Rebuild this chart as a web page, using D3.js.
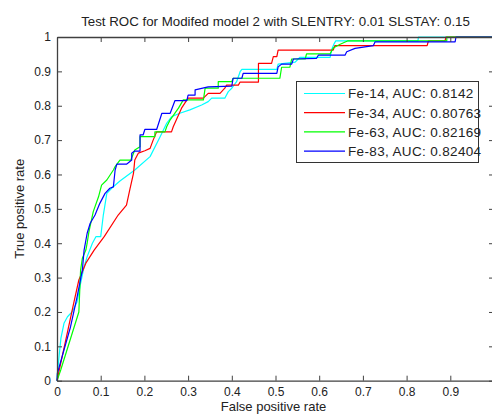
<!DOCTYPE html>
<html>
<head>
<meta charset="utf-8">
<script src="https://cdn.jsdelivr.net/npm/d3@7"></script>
<style>
  html, body { margin: 0; padding: 0; background: #fff; }
  svg { display: block; font-family: "Liberation Sans", Arial, sans-serif; }
</style>
</head>
<body>
<svg id="chart" width="492" height="417"></svg>
<script>
// ROC curves: false positive rate / true positive rate vertices per model
const fe14Fpr = [0, 0.001, 0.005, 0.009, 0.016, 0.024, 0.035, 0.046, 0.054, 0.062, 0.069, 0.081, 0.089, 0.100, 0.106, 0.114, 0.125, 0.144, 0.178, 0.213, 0.236, 0.251, 0.262, 0.281, 0.304, 0.331, 0.346, 0.354, 0.384, 0.392, 0.400, 0.411, 0.419, 0.423, 0.503, 0.506, 0.545, 0.556, 0.625, 0.629, 0.634, 0.638, 0.826, 0.827, 1];
const fe14Tpr = [0, 0.022, 0.074, 0.124, 0.167, 0.186, 0.201, 0.230, 0.283, 0.332, 0.361, 0.400, 0.419, 0.419, 0.482, 0.545, 0.560, 0.581, 0.613, 0.652, 0.710, 0.749, 0.768, 0.778, 0.788, 0.802, 0.812, 0.822, 0.822, 0.841, 0.851, 0.870, 0.899, 0.906, 0.906, 0.921, 0.927, 0.941, 0.941, 0.965, 0.980, 0.989, 0.989, 1, 1];

const fe34Fpr = [0, 0.039, 0.050, 0.066, 0.085, 0.108, 0.140, 0.159, 0.167, 0.175, 0.178, 0.186, 0.201, 0.213, 0.220, 0.228, 0.262, 0.266, 0.285, 0.300, 0.335, 0.346, 0.373, 0.384, 0.388, 0.415, 0.419, 0.461, 0.461, 0.491, 0.495, 0.503, 0.506, 0.632, 0.636, 0.847, 0.850, 0.888, 0.890, 1];
const fe34Tpr = [0, 0.230, 0.293, 0.342, 0.380, 0.419, 0.482, 0.511, 0.558, 0.603, 0.642, 0.662, 0.669, 0.676, 0.700, 0.724, 0.724, 0.739, 0.793, 0.822, 0.822, 0.836, 0.836, 0.851, 0.860, 0.860, 0.869, 0.869, 0.923, 0.923, 0.943, 0.943, 0.962, 0.962, 0.975, 0.975, 0.989, 0.989, 1, 1];

const fe63Fpr = [0, 0.0085, 0.050, 0.054, 0.058, 0.066, 0.069, 0.073, 0.083, 0.095, 0.102, 0.114, 0.129, 0.133, 0.144, 0.169, 0.178, 0.190, 0.190, 0.224, 0.224, 0.247, 0.251, 0.259, 0.278, 0.289, 0.335, 0.339, 0.369, 0.369, 0.400, 0.403, 0.510, 0.514, 0.533, 0.537, 0.568, 0.571, 0.625, 0.632, 0.648, 0.666, 0.892, 0.892, 1];
const fe63Tpr = [0, 0.031, 0.200, 0.322, 0.356, 0.380, 0.400, 0.433, 0.492, 0.535, 0.569, 0.584, 0.613, 0.623, 0.642, 0.642, 0.671, 0.681, 0.710, 0.710, 0.724, 0.724, 0.739, 0.759, 0.793, 0.817, 0.817, 0.851, 0.851, 0.870, 0.870, 0.880, 0.880, 0.912, 0.912, 0.936, 0.936, 0.951, 0.951, 0.968, 0.979, 0.989, 0.989, 1, 1];

const fe83Fpr = [0, 0.001, 0.031, 0.046, 0.058, 0.062, 0.069, 0.076, 0.087, 0.098, 0.110, 0.121, 0.129, 0.133, 0.137, 0.159, 0.171, 0.171, 0.177, 0.190, 0.190, 0.197, 0.201, 0.228, 0.240, 0.259, 0.270, 0.297, 0.300, 0.316, 0.316, 0.346, 0.400, 0.403, 0.423, 0.426, 0.503, 0.506, 0.514, 0.537, 0.541, 0.594, 0.598, 0.659, 0.663, 0.682, 0.724, 0.728, 0.911, 0.913, 1];
const fe83Tpr = [0, 0.022, 0.157, 0.244, 0.322, 0.380, 0.429, 0.458, 0.482, 0.516, 0.545, 0.560, 0.564, 0.613, 0.630, 0.630, 0.642, 0.662, 0.668, 0.668, 0.715, 0.715, 0.731, 0.731, 0.778, 0.778, 0.815, 0.815, 0.831, 0.831, 0.846, 0.855, 0.857, 0.880, 0.880, 0.894, 0.894, 0.913, 0.921, 0.921, 0.936, 0.938, 0.947, 0.947, 0.957, 0.967, 0.975, 0.986, 0.986, 1, 1];

const seriesNames = ["Fe-14, AUC: 0.8142", "Fe-34, AUC: 0.80763", "Fe-63, AUC: 0.82169", "Fe-83, AUC: 0.82404"];
const seriesColors = ["#00ffff", "#ff0000", "#00ff00", "#0000ff"];
const seriesFpr = [fe14Fpr, fe34Fpr, fe63Fpr, fe83Fpr];
const seriesTpr = [fe14Tpr, fe34Tpr, fe63Tpr, fe83Tpr];

// the x = 1 tick sits on the right edge of the figure, so only 0..0.9 carry labels
const xTicks = [0, 0.1, 0.2, 0.3, 0.4, 0.5, 0.6, 0.7, 0.8, 0.9, 1];
const xTickLabels = ["0", "0.1", "0.2", "0.3", "0.4", "0.5", "0.6", "0.7", "0.8", "0.9", ""];
const yTicks = [0, 0.1, 0.2, 0.3, 0.4, 0.5, 0.6, 0.7, 0.8, 0.9, 1];
const yTickLabels = ["0", "0.1", "0.2", "0.3", "0.4", "0.5", "0.6", "0.7", "0.8", "0.9", "1"];

const titleText = "Test ROC for Modifed model 2 with SLENTRY: 0.01 SLSTAY: 0.15";
const xLabelText = "False positive rate";
const yLabelText = "True positive rate";

const svg = d3.select("#chart");
const plotLeft = 57, plotRight = 494, plotTop = 37, plotBottom = 380.7;
const x = d3.scaleLinear().domain([0, 1]).range([plotLeft, plotRight]);
const y = d3.scaleLinear().domain([0, 1]).range([plotBottom, plotTop]);
const axisColor = "#404040";
const textColor = "#222";
const tickFont = 12;
const labelFont = 13;

// curves
const line = d3.line().x(d => x(d[0])).y(d => y(d[1]));
seriesFpr.forEach((fpr, i) => {
  const pts = fpr.map((f, k) => [f, seriesTpr[i][k]]);
  svg.append("path")
    .attr("d", line(pts))
    .attr("fill", "none")
    .attr("stroke", seriesColors[i])
    .attr("stroke-width", 1.2)
    .attr("stroke-linejoin", "round");
});

// axes box with inward ticks
function styleAxis(g) {
  g.selectAll(".domain").attr("stroke", axisColor).attr("stroke-width", 1.3);
  g.selectAll(".tick line").attr("stroke", axisColor);
  g.selectAll("text").attr("fill", textColor).attr("font-size", tickFont)
    .attr("font-family", "Liberation Sans, Arial, sans-serif");
}
svg.append("g").attr("transform", `translate(0,${plotBottom})`)
  .call(d3.axisBottom(x).tickValues(xTicks).tickFormat((d, i) => xTickLabels[i]).tickSizeInner(-5).tickSizeOuter(0).tickPadding(7))
  .call(styleAxis);
svg.append("g").attr("transform", `translate(0,${plotTop})`)
  .call(d3.axisTop(x).tickValues(xTicks).tickFormat("").tickSizeInner(-5).tickSizeOuter(0))
  .call(styleAxis);
svg.append("g").attr("transform", `translate(${plotLeft},0)`)
  .call(d3.axisLeft(y).tickValues(yTicks).tickFormat((d, i) => yTickLabels[i]).tickSizeInner(-5).tickSizeOuter(0).tickPadding(6))
  .call(styleAxis);
svg.append("g").attr("transform", `translate(${plotRight},0)`)
  .call(d3.axisRight(y).tickValues(yTicks).tickFormat("").tickSizeInner(-5).tickSizeOuter(0))
  .call(styleAxis);

// title and axis labels
svg.append("text").attr("x", (plotLeft + plotRight) / 2).attr("y", 26)
  .attr("text-anchor", "middle").attr("font-size", 13.3).attr("fill", textColor).text(titleText);
svg.append("text").attr("x", (plotLeft + plotRight) / 2 - 2).attr("y", 411)
  .attr("text-anchor", "middle").attr("font-size", labelFont).attr("fill", textColor).text(xLabelText);
svg.append("text").attr("transform", `translate(24,${(plotTop + plotBottom) / 2}) rotate(-90)`)
  .attr("text-anchor", "middle").attr("font-size", labelFont).attr("fill", textColor).text(yLabelText);

// legend
const lg = svg.append("g");
lg.append("rect").attr("x", 296.5).attr("y", 81.5).attr("width", 182).attr("height", 81)
  .attr("fill", "#fff").attr("stroke", "#333").attr("stroke-width", 1);
seriesNames.forEach((name, i) => {
  const cy = 93.5 + i * 19.2;
  lg.append("line").attr("x1", 304).attr("x2", 345).attr("y1", cy).attr("y2", cy)
    .attr("stroke", seriesColors[i]).attr("stroke-width", 1.2);
  lg.append("text").attr("x", 348).attr("y", cy).attr("dy", "0.36em")
    .attr("font-size", 13.5).attr("letter-spacing", 0.35)
    .attr("fill", textColor).text(name);
});
</script>
</body>
</html>
